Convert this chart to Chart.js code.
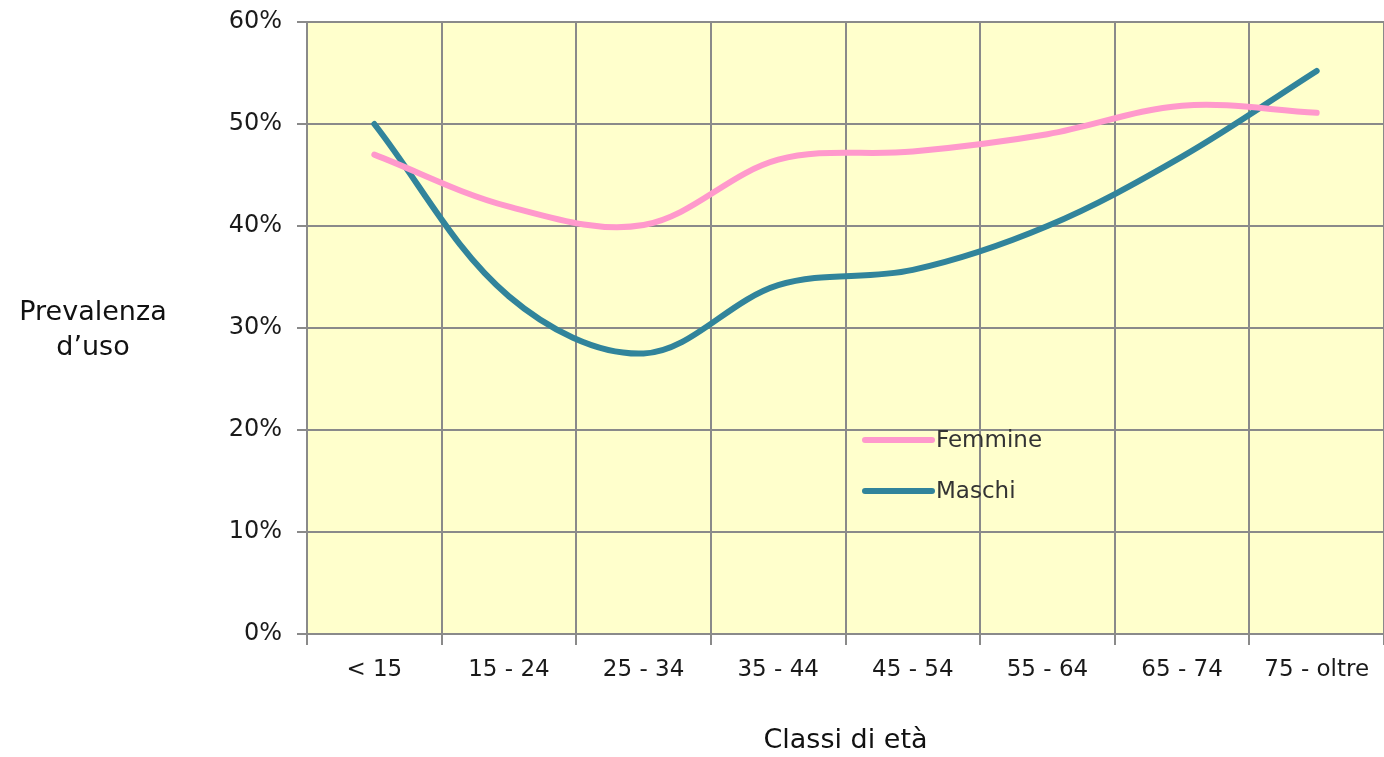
<!DOCTYPE html>
<html>
<head>
<meta charset="utf-8">
<script src="https://cdn.jsdelivr.net/npm/chart.js@4/dist/chart.umd.min.js"></script>
<style>
  body { margin: 0; background: #ffffff; }
  #wrap { width: 1384px; height: 757px; }
</style>
</head>
<body>
<div id="wrap"><canvas id="prevChart" width="1384" height="757"></canvas></div>
<script>
const categories = ['< 15', '15 - 24', '25 - 34', '35 - 44', '45 - 54', '55 - 64', '65 - 74', '75 - oltre']
const femmine = [47, 41.9, 40.1, 46.5, 47.3, 49, 51.8, 51.1]
const maschi = [50, 33.1, 27.5, 34.2, 35.7, 40, 46.8, 55.2]
const yTicks = [0, 10, 20, 30, 40, 50, 60]

const FONT = "'DejaVu Sans', Verdana, sans-serif"

// yellow plot background
const plotBg = {
    id: 'plotBg',
    beforeDraw(chart) {
        const { ctx, chartArea: a } = chart
        ctx.save()
        ctx.fillStyle = '#ffffcc'
        ctx.fillRect(a.left, a.top, a.right - a.left, a.bottom - a.top)
        ctx.restore()
    }
}

// category labels under the x axis, y title, legend inside the plot
const extras = {
    id: 'extras',
    afterDraw(chart) {
        const { ctx, chartArea: a } = chart
        const xs = chart.scales.x
        ctx.save()

        ctx.fillStyle = '#1a1a1a'
        ctx.font = '23px ' + FONT
        ctx.textAlign = 'center'
        ctx.textBaseline = 'middle'
        categories.forEach((c, i) => {
            ctx.fillText(c, xs.getPixelForTick(i), a.bottom + 36)
        })

        ctx.fillStyle = '#111'
        ctx.font = '27px ' + FONT
        ctx.fillText('Prevalenza', 93, 313)
        ctx.fillText('d\u2019uso', 93, 348)

        chart.data.datasets.forEach((ds, i) => {
            const y = a.top + 418 + i * 51
            const x = a.left + 558
            ctx.strokeStyle = ds.borderColor
            ctx.lineWidth = 6
            ctx.lineCap = 'round'
            ctx.beginPath()
            ctx.moveTo(x, y)
            ctx.lineTo(x + 67, y)
            ctx.stroke()
            ctx.fillStyle = '#333'
            ctx.font = '23px ' + FONT
            ctx.textAlign = 'left'
            ctx.fillText(ds.label, x + 71, y + 1)
        })
        ctx.restore()
    }
}

new Chart(document.getElementById('prevChart').getContext('2d'), {
    type: 'line',
    data: {
        labels: categories,
        datasets: [{
            label: 'Femmine',
            data: femmine,
            borderColor: '#ff99cc',
            borderWidth: 6,
            borderCapStyle: 'round',
            tension: 0.35,
            pointRadius: 0,
            fill: false
        }, {
            label: 'Maschi',
            data: maschi,
            borderColor: '#31849b',
            borderWidth: 6,
            borderCapStyle: 'round',
            tension: 0.35,
            pointRadius: 0,
            fill: false
        }]
    },
    options: {
        responsive: false,
        animation: false,
        layout: { padding: { top: 22, right: 0, left: 0, bottom: 0 } },
        plugins: {
            legend: { display: false },
            tooltip: { enabled: false }
        },
        scales: {
            x: {
                offset: true,
                grid: { color: '#8a8a8a', lineWidth: 2, tickLength: 11, offset: true },
                border: { color: '#8a8a8a', width: 2 },
                ticks: { display: false },
                title: {
                    display: true,
                    text: 'Classi di et\u00e0',
                    color: '#111',
                    font: { family: FONT, size: 27 },
                    padding: { top: 0, bottom: 0 }
                },
                afterFit(scale) {
                    scale.height = 123
                    scale.paddingLeft = 0
                    scale.paddingRight = 0
                }
            },
            y: {
                min: 0,
                max: 60,
                afterBuildTicks(scale) { scale.ticks = yTicks.map(v => ({ value: v })) },
                grid: { color: '#8a8a8a', lineWidth: 2, tickLength: 10 },
                border: { color: '#8a8a8a', width: 2 },
                ticks: {
                    color: '#1a1a1a',
                    font: { family: FONT, size: 24 },
                    padding: 15,
                    callback: v => v + '%'
                },
                afterFit(scale) {
                    scale.width = 307
                    scale.paddingTop = 0
                    scale.paddingBottom = 0
                }
            }
        }
    },
    plugins: [plotBg, extras]
})
</script>
</body>
</html>
